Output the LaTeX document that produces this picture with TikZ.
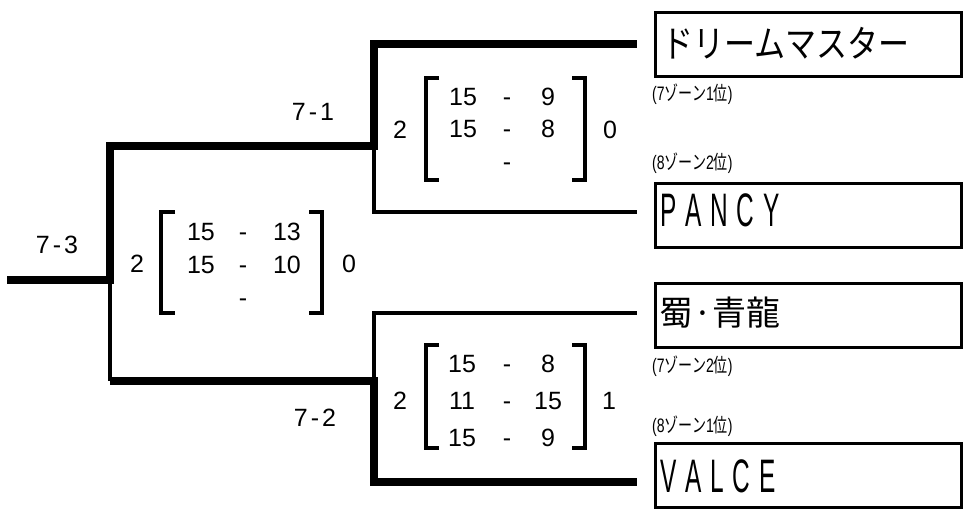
\documentclass[tikz,border=0pt]{standalone}
\usepackage{fontspec}
\setmainfont{Liberation Sans}
\newfontfamily\jp{Noto Sans CJK JP}
\newcommand{\zonetext}[2]{\scalebox{0.72}[1]{(#1{\jp ゾーン}#2{\jp 位})}}
\begin{document}
\begin{tikzpicture}[x=1pt,y=-1pt,
  thickln/.style={line width=8.5pt},
  thinln/.style={line width=3.5pt},
  brk/.style={line width=3.2pt},
  team/.style={draw,line width=3pt,minimum width=306pt,minimum height=64pt,anchor=north west,inner sep=0pt},
  num/.style={inner sep=0pt,text height=18pt,text depth=0pt,font=\fontsize{25}{25}\selectfont},
  zone/.style={inner sep=0pt,anchor=west,font=\fontsize{19.5}{19.5}\selectfont},
  tname/.style={inner sep=0pt,anchor=west},
  ]
\useasboundingbox (0,0) rectangle (966,524);
% team boxes
\node[team] (b1) at (653.5,11.5) {};
\node[team] (b2) at (653.5,181.5) {};
\node[team] (b3) at (653.5,281.5) {};
\node[team] (b4) at (653.5,441.5) {};
\node[tname] (t1) at (662,43) {\scalebox{1}[1.2]{\jp\fontsize{31}{31}\selectfont ドリームマスター}};
\node[tname] (t2) at (660,210) {\scalebox{0.52}[1]{\fontsize{47}{47}\selectfont P\kern17pt A\kern17pt N\kern17pt C\kern17pt Y}};
\node[tname] (t3) at (659,313) {\jp\fontsize{34}{34}\selectfont 蜀·青龍};
\node[tname] (t4) at (660,476) {\scalebox{0.52}[1]{\fontsize{47}{47}\selectfont V\kern17pt A\kern17pt L\kern17pt C\kern17pt E}};
% zone labels
\node[zone] (z1) at (652,94) {\zonetext{7}{1}};
\node[zone] (z2) at (652,163) {\zonetext{8}{2}};
\node[zone] (z3) at (652,366) {\zonetext{7}{2}};
\node[zone] (z4) at (652,426) {\zonetext{8}{1}};
% bracket coordinates
\coordinate (root) at (7,280);
\coordinate (s3) at (110,280);
\coordinate (s3b) at (110,381);
\coordinate (s1) at (374,146);
\coordinate (s2) at (374,381);
\coordinate (e1) at (637,44);
\coordinate (e2) at (637,212);
\coordinate (e3) at (637,313);
\coordinate (e4) at (637,482);
\draw[thickln] (root) -- (s3) |- (s1) |- (e1);
\draw[thinln] (s3) -- (s3b);
\draw[thickln] (s3b) -- (s2) |- (e4);
\draw[thinln] (s2) |- (e3);
\draw[thinln] (s1) |- (e2);
% match labels
\node[num] (l3) at (57,244) {7\kern3pt-\kern3pt3};
\node[num] (l1) at (313,112) {7\kern3pt-\kern3pt1};
\node[num] (l2) at (315,417) {7\kern3pt-\kern3pt2};
% final 7-3 scores
\node[num] (m2) at (137,263) {2};
\node[num] (m0) at (349,263) {0};
\node[num] (ma1) at (201,231) {15};
\node[num] (mb1) at (243,231) {-};
\node[num] (mc1) at (287,231) {13};
\node[num] (ma2) at (201,264) {15};
\node[num] (mb2) at (243,264) {-};
\node[num] (mc2) at (287,264) {10};
\node[num] (mb3) at (243,297) {-};
\draw[brk] (175,212) -| (161,313) -- (175,313);
\draw[brk] (309,212) -| (322,313) -- (309,313);
% 7-1 scores
\node[num] (u2) at (400,130) {2};
\node[num] (u0) at (610,130) {0};
\node[num] (ua1) at (463,97) {15};
\node[num] (ub1) at (507,97) {-};
\node[num] (uc1) at (548,97) {9};
\node[num] (ua2) at (463,129) {15};
\node[num] (ub2) at (507,129) {-};
\node[num] (uc2) at (548,129) {8};
\node[num] (ub3) at (507,161) {-};
\draw[brk] (439,78) -| (426,180) -- (439,180);
\draw[brk] (572,78) -| (585,180) -- (572,180);
% 7-2 scores
\node[num] (d2) at (400,400) {2};
\node[num] (d1) at (609,400) {1};
\node[num] (da1) at (462,363) {15};
\node[num] (db1) at (507,363) {-};
\node[num] (dc1) at (548,363) {8};
\node[num] (da2) at (462,400) {11};
\node[num] (db2) at (507,400) {-};
\node[num] (dc2) at (548,400) {15};
\node[num] (da3) at (462,437) {15};
\node[num] (db3) at (507,437) {-};
\node[num] (dc3) at (548,437) {9};
\draw[brk] (439,345) -| (426,448) -- (439,448);
\draw[brk] (572,345) -| (585,448) -- (572,448);
\end{tikzpicture}
\end{document}
